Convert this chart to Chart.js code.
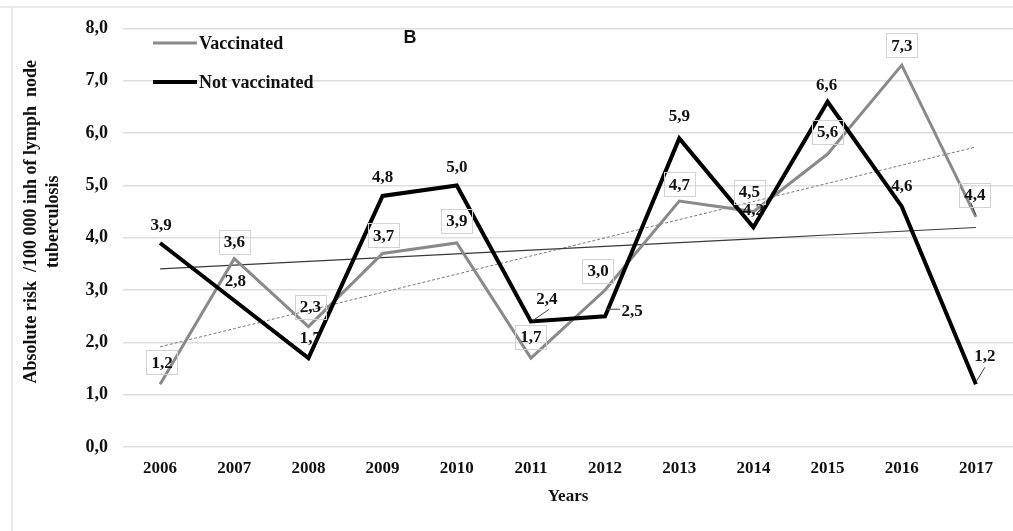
<!DOCTYPE html>
<html>
<head>
<meta charset="utf-8">
<script src="https://cdn.jsdelivr.net/npm/chart.js@4.4.1/dist/chart.umd.min.js"></script>
<style>
  html, body { margin: 0; padding: 0; background: #fff; overflow: hidden; }
  #wrap { width: 1013px; height: 531px; position: relative; }
</style>
</head>
<body>
<div id="wrap"><canvas id="chart" width="1013" height="531"></canvas></div>
<script>
// Absolute risk of lymph node tuberculosis per 100 000 inhabitants
const years = ['2006', '2007', '2008', '2009', '2010', '2011', '2012', '2013', '2014', '2015', '2016', '2017'];
const vaccinated = [1.2, 3.6, 2.3, 3.7, 3.9, 1.7, 3.0, 4.7, 4.5, 5.6, 7.3, 4.4];
const notVaccinated = [3.9, 2.8, 1.7, 4.8, 5.0, 2.4, 2.5, 5.9, 4.2, 6.6, 4.6, 1.2];
const yTickValues = [0, 1, 2, 3, 4, 5, 6, 7, 8];
const seriesNames = ['Vaccinated', 'Not vaccinated'];
const yTitleLines = ['Absolute risk  /100 000 inh of lymph  node', 'tuberculosis'];
const xTitle = 'Years';
const panelLetter = 'B';

// Label placement relative to each point (pixels)
const vaccLabelShift = [[2,-22],[0,-17],[2,-20],[1,-18],[0,-22],[0,-21],[-7,-19],[0,-17],[-4,-20],[0,-22],[0,-20],[-1,-22]];
const notVaccLabelShift = [[1,-18],[1,-20],[2,-20],[0,-19],[0,-19],[16,-23],[27,-6],[0,-23],[0,-18],[-1,-17],[0,-21],[9,-29]];
// Leader lines: index -> [x1, y1, x2, y2] relative to the point
const vaccLeaders = { 11: [0, -2, -5, -14] };
const notVaccLeaders = { 5: [2, -1, 18, -12], 6: [2, -7, 15, -7], 11: [0, -2, 9, -17] };

const SERIF = '"Liberation Serif", "Times New Roman", serif';
const GRAY = '#8a8a8a';

// Least-squares linear trend of a series
function linearTrend(values) {
  const n = values.length;
  let sx = 0, sy = 0, sxy = 0, sxx = 0;
  values.forEach((v, i) => { sx += i; sy += v; sxy += i * v; sxx += i * i; });
  const slope = (n * sxy - sx * sy) / (n * sxx - sx * sx);
  const icpt = (sy - slope * sx) / n;
  return values.map((_, i) => icpt + slope * i);
}

const fmt = v => v.toFixed(1).replace('.', ',');

const decorations = {
  id: 'decorations',
  beforeDraw(chart) {
    const ctx = chart.ctx;
    ctx.save();
    ctx.fillStyle = '#ffffff';
    ctx.fillRect(0, 0, chart.width, chart.height);
    ctx.strokeStyle = '#e4e4e4';
    ctx.lineWidth = 1.5;
    ctx.beginPath();
    ctx.moveTo(0, 7); ctx.lineTo(chart.width, 7);
    ctx.moveTo(12, 7); ctx.lineTo(12, chart.height);
    ctx.stroke();
    ctx.restore();
  },
  afterDraw(chart) {
    const ctx = chart.ctx;
    const area = chart.chartArea;
    ctx.save();

    // y-axis title
    ctx.translate(31, (area.top + area.bottom) / 2 - 16);
    ctx.rotate(-Math.PI / 2);
    ctx.fillStyle = '#111';
    ctx.font = 'bold 18px ' + SERIF;
    ctx.textAlign = 'center';
    ctx.textBaseline = 'middle';
    ctx.fillText(yTitleLines[0], 0, 0);
    ctx.fillText(yTitleLines[1], 0, 22);
    ctx.setTransform(1, 0, 0, 1, 0, 0);

    // legend
    const lx = 153, ly = [43, 82];
    const styles = [{ c: GRAY, w: 3 }, { c: '#000', w: 4 }];
    seriesNames.forEach((name, i) => {
      ctx.strokeStyle = styles[i].c;
      ctx.lineWidth = styles[i].w;
      ctx.beginPath();
      ctx.moveTo(lx, ly[i]);
      ctx.lineTo(lx + 44, ly[i]);
      ctx.stroke();
      ctx.fillStyle = '#111';
      ctx.font = 'bold 18px ' + SERIF;
      ctx.textAlign = 'left';
      ctx.textBaseline = 'middle';
      ctx.fillText(name, lx + 46, ly[i] + 1);
    });

    // panel letter
    ctx.font = 'bold 18px "Liberation Sans", Arial, sans-serif';
    ctx.textAlign = 'center';
    ctx.textBaseline = 'middle';
    ctx.fillStyle = '#111';
    ctx.fillText(panelLetter, 410, 38);

    // value labels
    const drawLabels = (dsIndex, values, shifts, leaders, boxed) => {
      const meta = chart.getDatasetMeta(dsIndex);
      meta.data.forEach((pt, i) => {
        const x = pt.x, y = pt.y;
        const lead = leaders[i];
        if (lead) {
          ctx.strokeStyle = '#444';
          ctx.lineWidth = 1;
          ctx.beginPath();
          ctx.moveTo(x + lead[0], y + lead[1]);
          ctx.lineTo(x + lead[2], y + lead[3]);
          ctx.stroke();
        }
        const cx = x + shifts[i][0], cy = y + shifts[i][1];
        const txt = fmt(values[i]);
        ctx.font = 'bold 17px ' + SERIF;
        const w = ctx.measureText(txt).width;
        if (boxed) {
          ctx.strokeStyle = '#d2d2d2';
          ctx.lineWidth = 1;
          ctx.strokeRect(Math.round(cx - w / 2 - 5) + 0.5, Math.round(cy - 12) + 0.5, Math.round(w + 10), 24);
        }
        ctx.fillStyle = '#111';
        ctx.textAlign = 'center';
        ctx.textBaseline = 'middle';
        ctx.fillText(txt, cx, cy + 1);
      });
    };
    drawLabels(0, vaccinated, vaccLabelShift, vaccLeaders, true);
    drawLabels(1, notVaccinated, notVaccLabelShift, notVaccLeaders, false);
    ctx.restore();
  }
};

new Chart(document.getElementById('chart'), {
  type: 'line',
  data: {
    labels: years,
    datasets: [
      { label: seriesNames[0], data: vaccinated, borderColor: GRAY, borderWidth: 3, pointRadius: 0, tension: 0, order: 1, borderJoinStyle: 'miter' },
      { label: seriesNames[1], data: notVaccinated, borderColor: '#000', borderWidth: 4, pointRadius: 0, tension: 0, order: 0, borderJoinStyle: 'miter' },
      { label: 'trend-vaccinated', data: linearTrend(vaccinated), borderColor: '#7a7a7a', borderWidth: 1, borderDash: [3, 2], pointRadius: 0, order: 3 },
      { label: 'trend-not-vaccinated', data: linearTrend(notVaccinated), borderColor: '#3a3a3a', borderWidth: 1.2, pointRadius: 0, order: 2 }
    ]
  },
  options: {
    responsive: false,
    animation: false,
    devicePixelRatio: 1,
    layout: { padding: { top: 28.5, right: 0, bottom: 0, left: 0 } },
    plugins: { legend: { display: false }, tooltip: { enabled: false } },
    scales: {
      x: {
        offset: true,
        grid: { display: false, offset: true },
        border: { display: false },
        ticks: { color: '#111', font: { family: SERIF, size: 17, weight: 'bold' }, padding: 3, maxRotation: 0 },
        title: { display: true, text: xTitle, color: '#111', font: { family: SERIF, size: 17, weight: 'bold' }, padding: { top: 0, bottom: 24 } },
        afterFit(scale) { scale.height = 84; }
      },
      y: {
        min: 0,
        max: 8,
        afterBuildTicks(scale) { scale.ticks = yTickValues.map(v => ({ value: v })); },
        grid: { color: '#dedede', lineWidth: 1.6, drawTicks: false },
        border: { display: false },
        ticks: { color: '#111', font: { family: SERIF, size: 18, weight: 'bold' }, padding: 15, callback: v => fmt(v) },
        afterFit(scale) { scale.width = 123; }
      }
    }
  },
  plugins: [decorations]
});
</script>
</body>
</html>
